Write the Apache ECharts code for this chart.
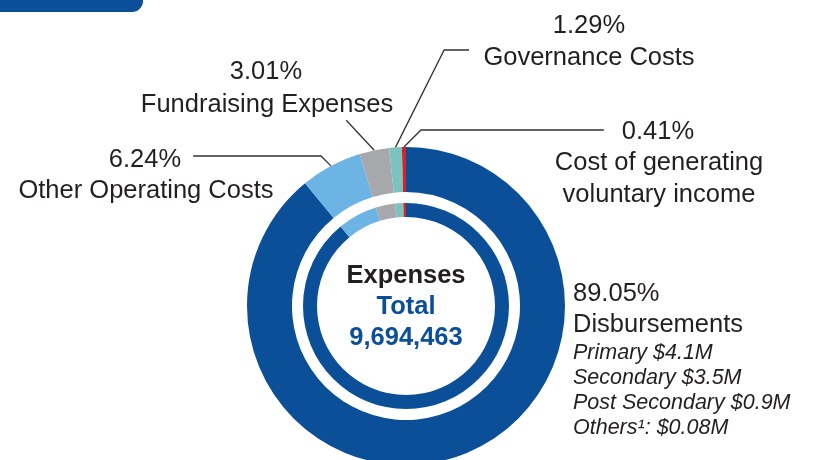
<!DOCTYPE html>
<html>
<head>
<meta charset="utf-8">
<script src="https://cdn.jsdelivr.net/npm/echarts@6/dist/echarts.min.js"></script>
<style>
  html, body { margin: 0; padding: 0; background: #ffffff; }
  #chart { width: 820px; height: 460px; }
</style>
</head>
<body>
<div id="chart"></div>
<script>
// Expense categories, clockwise from 12 o'clock
const categories = [
  'Disbursements',
  'Other Operating Costs',
  'Fundraising Expenses',
  'Governance Costs',
  'Cost of generating voluntary income'
];
// Share of total expenses (%)
const shares = [89.05, 6.24, 3.01, 1.29, 0.41];
// Disbursement breakdown lines
const disbursementBreakdown = [
  'Primary $4.1M',
  'Secondary $3.5M',
  'Post Secondary $0.9M',
  'Others\u00b9: $0.08M'
];
const totalLabel = 'Total';
const totalExpenses = 9694463;

const palette = ['#0a4f98', '#6cb4e3', '#a7a8ac', '#7cc3bd', '#d2232a'];
const NAVY = '#0a4f98';
const INK = '#231f20';
const FONT = '"Liberation Sans", Arial, Helvetica, sans-serif';
const MAIN_SIZE = 25.5;
const SUB_SIZE = 21.5;
const CENTER = [406, 306];

// Where each percentage and each name sits around the ring
const pctPos = [
  { x: 573, y: 294, align: 'left' },
  { x: 145, y: 160, align: 'center' },
  { x: 266, y: 72, align: 'center' },
  { x: 589, y: 26, align: 'center' },
  { x: 658, y: 132, align: 'center' }
];
const namePos = [
  { x: 573, y: 309, align: 'left', verticalAlign: 'top' },
  { x: 146, y: 191, align: 'center' },
  { x: 267, y: 105, align: 'center' },
  { x: 589, y: 58, align: 'center' },
  { x: 659, y: 179, align: 'center' }
];

// Leader lines start where the library anchors them on the outer ring
function leaderPoints(i, a, w) {
  const ax = a[0], ay = a[1];
  if (i === 1) { const ly = 156; return [[ax, ay], [ax - (ay - ly), ly], [pctPos[1].x + w / 2 + 12, ly]]; }
  if (i === 2) { return [[ax, ay], [ax - 28, ay - 30]]; }
  if (i === 3) { const ly = 50; return [[ax, ay], [ax + (ay - ly) * 0.5, ly], [469, ly]]; }
  if (i === 4) { const ly = 130; return [[ax, ay], [ax + (ay - ly), ly], [pctPos[4].x - w / 2 - 18, ly]]; }
  return null;
}

function displayName(i) {
  if (i === 0) {
    return '{n|' + categories[0] + '}\n' + disbursementBreakdown.map(s => '{i|' + s + '}').join('\n');
  }
  if (i === 4) return 'Cost of generating\nvoluntary income';
  return categories[i];
}

const pieData = categories.map((name, i) => ({
  name,
  value: shares[i],
  itemStyle: { color: palette[i] },
  labelLine: { show: i !== 0 }
}));

const chart = echarts.init(document.getElementById('chart'), null, { renderer: 'canvas' });

chart.setOption({
  animation: false,
  backgroundColor: '#ffffff',
  graphic: [
    {
      type: 'rect',
      shape: { x: 0, y: 0, width: 143, height: 12, r: [0, 0, 11, 0] },
      style: { fill: NAVY }
    },
    {
      type: 'text',
      x: CENTER[0],
      y: CENTER[1] + 1,
      style: {
        text: '{a|Expenses}\n{b|' + totalLabel + '}\n{b|' + totalExpenses.toLocaleString('en-US') + '}',
        align: 'center',
        verticalAlign: 'middle',
        rich: {
          a: { fontFamily: FONT, fontWeight: 'bold', fontSize: MAIN_SIZE, lineHeight: 31, fill: INK, align: 'center' },
          b: { fontFamily: FONT, fontWeight: 'bold', fontSize: MAIN_SIZE, lineHeight: 31, fill: NAVY, align: 'center' }
        }
      }
    }
  ],
  series: [
    {
      // Outer ring carries the percentages and leader lines
      type: 'pie',
      center: CENTER,
      radius: [114, 159],
      startAngle: 90,
      clockwise: true,
      avoidLabelOverlap: false,
      silent: true,
      data: pieData,
      label: {
        show: true,
        position: 'outside',
        fontFamily: FONT,
        fontSize: MAIN_SIZE,
        color: INK,
        formatter: p => shares[p.dataIndex].toFixed(2) + '%'
      },
      labelLine: {
        show: true,
        length: 10,
        length2: 10,
        smooth: false,
        lineStyle: { color: '#333333', width: 1.3 }
      },
      labelLayout: params => {
        const i = params.dataIndex;
        const pos = pctPos[i];
        const out = { x: pos.x, y: pos.y, align: pos.align, verticalAlign: 'middle' };
        if (i !== 0 && params.labelLinePoints) {
          out.labelLinePoints = leaderPoints(i, params.labelLinePoints[0], params.labelRect.width);
        }
        return out;
      }
    },
    {
      // Inner ring carries the category names
      type: 'pie',
      center: CENTER,
      radius: [89, 103],
      startAngle: 90,
      clockwise: true,
      avoidLabelOverlap: false,
      silent: true,
      data: pieData.map(d => Object.assign({}, d, { labelLine: { show: false } })),
      label: {
        show: true,
        position: 'outside',
        fontFamily: FONT,
        fontSize: MAIN_SIZE,
        lineHeight: 32,
        color: INK,
        formatter: p => displayName(p.dataIndex),
        rich: {
          n: { fontFamily: FONT, fontSize: MAIN_SIZE, lineHeight: 32, color: INK },
          i: { fontFamily: FONT, fontSize: SUB_SIZE, fontStyle: 'italic', lineHeight: 25, color: INK }
        }
      },
      labelLine: { show: false },
      labelLayout: params => {
        const pos = namePos[params.dataIndex];
        return { x: pos.x, y: pos.y, align: pos.align, verticalAlign: pos.verticalAlign || 'middle' };
      }
    }
  ]
});
</script>
</body>
</html>
